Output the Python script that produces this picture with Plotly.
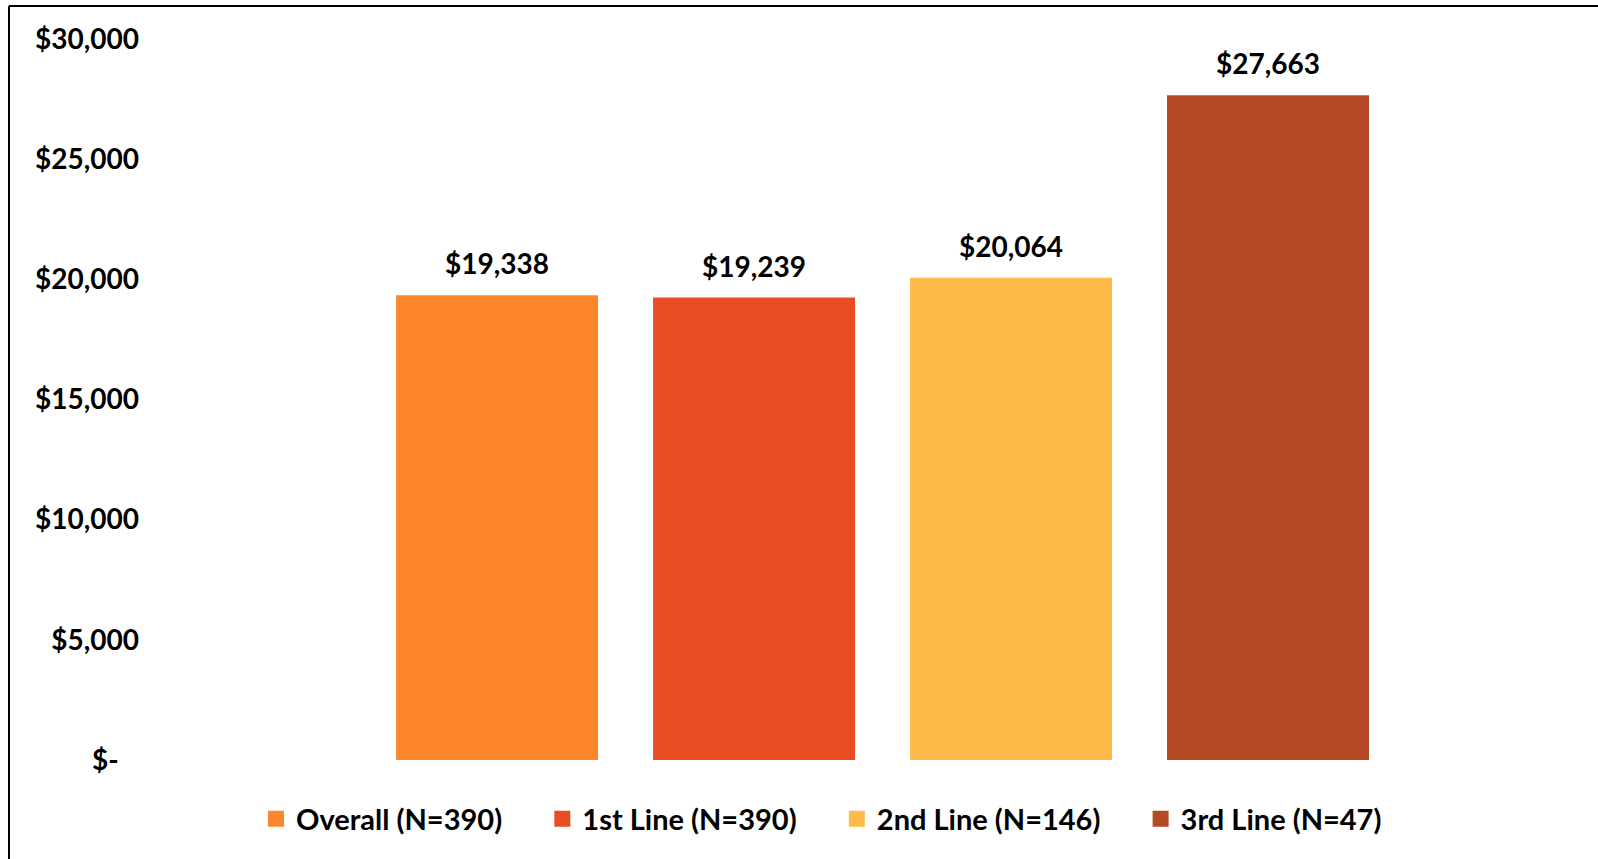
import plotly.graph_objects as go

# Average cost per patient by line of therapy
series = ["Overall (N=390)", "1st Line (N=390)", "2nd Line (N=146)", "3rd Line (N=47)"]
values = [19338, 19239, 20064, 27663]
colors = ["#FF8629", "#E84D24", "#FFBB49", "#B64A27"]

tick_vals = [0, 5000, 10000, 15000, 20000, 25000, 30000]
tick_text = ["$-\u00a0\u00a0\u00a0", "$5,000", "$10,000", "$15,000", "$20,000", "$25,000", "$30,000"]

FONT = "Lato"
W, H = 1598, 859
M_L, M_R, M_T, M_B = 145, 0, 39, 99
PAD = "\u00a0" * 5  # spacing between legend entries

fig = go.Figure()

positions = list(range(len(series)))
for i, (name, val, col) in enumerate(zip(series, values, colors)):
    fig.add_trace(go.Bar(
        x=[positions[i]], y=[val], width=0.786,
        marker=dict(color=col, line=dict(width=0)),
        name=name, showlegend=False, hoverinfo="y",
    ))
    # legend swatch
    fig.add_trace(go.Scatter(
        x=[None], y=[None], mode="markers", name=name + PAD,
        marker=dict(symbol="square", size=16, color=col),
    ))
    fig.add_annotation(
        x=positions[i], y=val, text=f"${val:,}", showarrow=False,
        yanchor="bottom", yshift=13,
        font=dict(family=FONT, size=28, color="black", weight="bold"),
    )

# chart frame (left and top edges)
pw = W - M_L - M_R
ph = H - M_T - M_B
x_left = (9 - M_L) / pw
y_top = (ph - (6 - M_T)) / ph
fig.add_shape(type="line", xref="paper", yref="paper",
              x0=x_left, x1=1.05, y0=y_top, y1=y_top,
              line=dict(color="black", width=2))
fig.add_shape(type="line", xref="paper", yref="paper",
              x0=x_left, x1=x_left, y0=y_top, y1=-0.2,
              line=dict(color="black", width=2))

fig.update_layout(
    width=W, height=H,
    margin=dict(l=M_L, r=M_R, t=M_T, b=M_B, pad=0),
    plot_bgcolor="white", paper_bgcolor="white",
    xaxis=dict(range=[-1.37, 4.284], visible=False, fixedrange=True),
    yaxis=dict(range=[0, 30000], tickvals=tick_vals, ticktext=tick_text,
               showgrid=False, zeroline=False, showline=False, ticks="",
               ticklabelstandoff=5,
               tickfont=dict(family=FONT, size=28, color="black", weight="bold")),
    showlegend=True,
    legend=dict(orientation="h", x=(256 - M_L) / pw, xanchor="left",
                y=(ph - (819 - M_T)) / ph, yanchor="middle",
                font=dict(family=FONT, size=29, color="black", weight="bold"),
                bgcolor="rgba(0,0,0,0)"),
    barmode="overlay",
)

fig.write_html("out.html")
